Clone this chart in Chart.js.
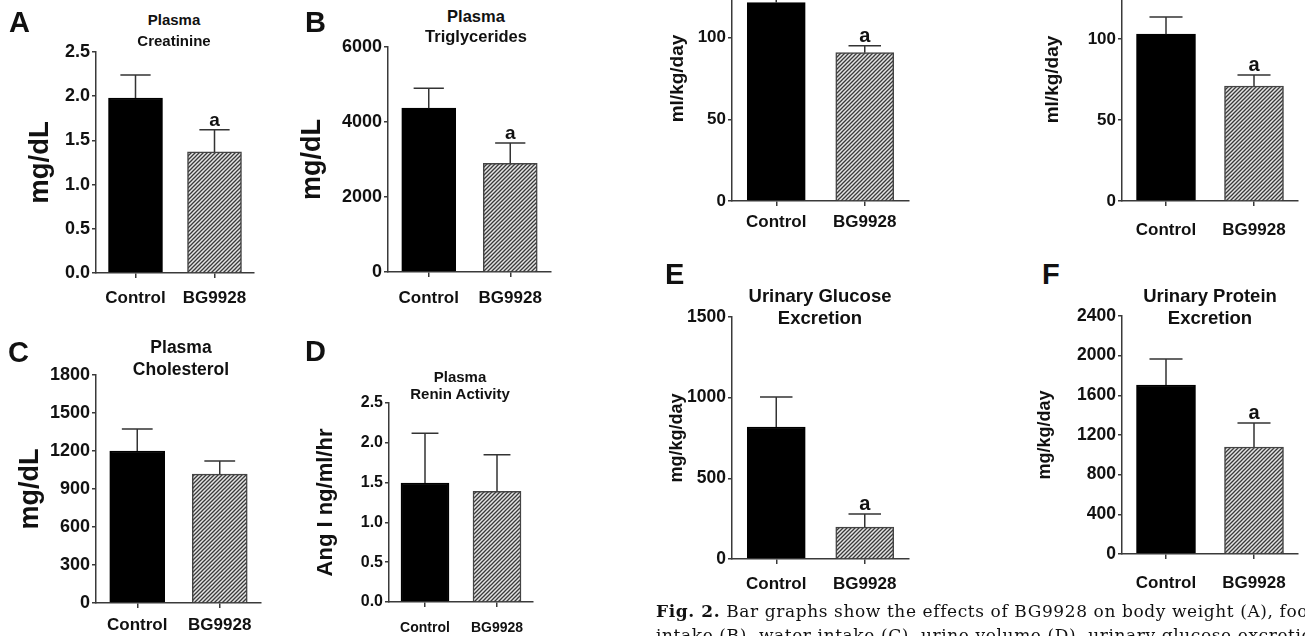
<!DOCTYPE html>
<html>
<head>
<meta charset="utf-8">
<script src="https://cdn.jsdelivr.net/npm/chart.js@4.4.1/dist/chart.umd.min.js"></script>
<style>
  html, body { margin: 0; padding: 0; background: #fff; }
  body { width: 1305px; height: 636px; overflow: hidden; position: relative; }
  canvas { position: absolute; }
  .t { position: absolute; white-space: nowrap; line-height: 1; color: #111;
       font-family: "Liberation Sans", Arial, Helvetica, sans-serif; font-weight: bold; }
  .cap { position: absolute; white-space: nowrap; line-height: 1; color: #111; letter-spacing: 0.6px;
         font-family: "DejaVu Serif", "Liberation Serif", serif; }
</style>
</head>
<body>
<script>
// ---------------- data ----------------
const categories = ['Control', 'BG9928'];

const creatinineMean = [1.98, 1.37];
const creatinineErr  = [0.26, 0.25];
const creatinineSig  = ['', 'a'];
const creatinineTicks = [0, 0.5, 1.0, 1.5, 2.0, 2.5];

const triglycerideMean = [4370, 2900];
const triglycerideErr  = [530, 540];
const triglycerideSig  = ['', 'a'];
const triglycerideTicks = [0, 2000, 4000, 6000];

const cholesterolMean = [1200, 1018];
const cholesterolErr  = [174, 103];
const cholesterolSig  = ['', ''];
const cholesterolTicks = [0, 300, 600, 900, 1200, 1500, 1800];

const reninMean = [1.495, 1.39];
const reninErr  = [0.625, 0.46];
const reninSig  = ['', ''];
const reninTicks = [0, 0.5, 1.0, 1.5, 2.0, 2.5];

const waterIntakeMean = [121.5, 90.8];
const waterIntakeErr  = [8.5, 4.3];
const waterIntakeSig  = ['', 'a'];
const waterIntakeTicks = [0, 50, 100, 150];

const urineVolumeMean = [103, 71];
const urineVolumeErr  = [10.6, 6.8];
const urineVolumeSig  = ['', 'a'];
const urineVolumeTicks = [0, 50, 100, 150];

const glucoseMean = [818, 198];
const glucoseErr  = [186, 81];
const glucoseSig  = ['', 'a'];
const glucoseTicks = [0, 500, 1000, 1500];

const proteinMean = [1704, 1079];
const proteinErr  = [262, 242];
const proteinSig  = ['', 'a'];
const proteinTicks = [0, 400, 800, 1200, 1600, 2000, 2400];

// ---------------- layout ----------------
const dec1 = v => Number(v).toFixed(1);
const int0 = v => String(v);

const panels = [
  { mean: creatinineMean, err: creatinineErr, sig: creatinineSig, ticks: creatinineTicks, fmt: dec1, yTitle: 'mg/dL',
    axisX: 96, right: 254, top: 52, bottom: 273, yTitleCx: 40, yTitleSize: 27.5, tickSize: 18, xSize: 17, xLabelCy: 298, barW: 54, sigSize: 19 },
  { mean: triglycerideMean, err: triglycerideErr, sig: triglycerideSig, ticks: triglycerideTicks, fmt: int0, yTitle: 'mg/dL',
    axisX: 388, right: 551, top: 47, bottom: 272, yTitleCx: 312, yTitleSize: 27, tickSize: 18, xSize: 17, xLabelCy: 298, barW: 54, sigSize: 19 },
  { mean: cholesterolMean, err: cholesterolErr, sig: cholesterolSig, ticks: cholesterolTicks, fmt: int0, yTitle: 'mg/dL',
    axisX: 96, right: 261, top: 375, bottom: 603, yTitleCx: 30, yTitleSize: 27, tickSize: 18, xSize: 17, xLabelCy: 625, barW: 55, sigSize: 19 },
  { mean: reninMean, err: reninErr, sig: reninSig, ticks: reninTicks, fmt: dec1, yTitle: 'Ang I ng/ml/hr',
    axisX: 389, right: 533, top: 403, bottom: 602, yTitleCx: 326, yTitleSize: 22, tickSize: 16, xSize: 14, xLabelCy: 628, barW: 48, sigSize: 17 },
  { mean: waterIntakeMean, err: waterIntakeErr, sig: waterIntakeSig, ticks: waterIntakeTicks, fmt: int0, yTitle: 'ml/kg/day',
    axisX: 732, right: 909, top: -44, bottom: 201, yTitleCx: 677, yTitleSize: 19, tickSize: 17, xSize: 17, xLabelCy: 222, barW: 58, sigSize: 20 },
  { mean: urineVolumeMean, err: urineVolumeErr, sig: urineVolumeSig, ticks: urineVolumeTicks, fmt: int0, yTitle: 'ml/kg/day',
    axisX: 1122, right: 1298, top: -42, bottom: 201, yTitleCx: 1052, yTitleSize: 19, tickSize: 17, xSize: 17, xLabelCy: 230, barW: 59, sigSize: 20 },
  { mean: glucoseMean, err: glucoseErr, sig: glucoseSig, ticks: glucoseTicks, fmt: int0, yTitle: 'mg/kg/day',
    axisX: 732, right: 909, top: 317, bottom: 559, yTitleCx: 677, yTitleSize: 18, tickSize: 17.5, xSize: 17, xLabelCy: 584, barW: 58, sigSize: 20 },
  { mean: proteinMean, err: proteinErr, sig: proteinSig, ticks: proteinTicks, fmt: int0, yTitle: 'mg/kg/day',
    axisX: 1122, right: 1298, top: 316, bottom: 554, yTitleCx: 1045, yTitleSize: 18, tickSize: 17.5, xSize: 17, xLabelCy: 583, barW: 59, sigSize: 20 }
];

const titles = [
  { lines: ['Plasma', 'Creatinine'], cx: 174, base: [25, 46], fs: 15 },
  { lines: ['Plasma', 'Triglycerides'], cx: 476, base: [22, 42], fs: 16.5 },
  { lines: ['Plasma', 'Cholesterol'], cx: 181, base: [354, 376], fs: 17.5 },
  { lines: ['Plasma', 'Renin Activity'], cx: 460, base: [382, 399], fs: 15 },
  { lines: ['Urinary Glucose', 'Excretion'], cx: 820, base: [303, 325], fs: 18.5 },
  { lines: ['Urinary Protein', 'Excretion'], cx: 1210, base: [303, 325], fs: 18.5 }
];

const letters = [
  { t: 'A', x: 9, b: 33 }, { t: 'B', x: 305, b: 33 }, { t: 'C', x: 8, b: 363 },
  { t: 'D', x: 305, b: 362 }, { t: 'E', x: 665, b: 285 }, { t: 'F', x: 1042, b: 285 }
];

const AXIS = '#3a3a3a';
const FONT = '"Liberation Sans", Arial, Helvetica, sans-serif';

function placeText(cls, html, x, baseline, fs, center, weight) {
  const d = document.createElement('div');
  d.className = cls;
  d.innerHTML = html;
  d.style.fontSize = fs + 'px';
  d.style.top = (baseline - 0.8465 * fs) + 'px';
  if (weight) d.style.fontWeight = weight;
  d.style.left = x + 'px';
  if (center) d.style.transform = 'translateX(-50%)';
  document.body.appendChild(d);
  return d;
}

function hatchPattern(ctx) {
  const c = document.createElement('canvas');
  c.width = 4; c.height = 4;
  const g = c.getContext('2d');
  g.fillStyle = '#e4e4e4';
  g.fillRect(0, 0, 4, 4);
  g.strokeStyle = '#3a3a3a';
  g.lineWidth = 1.3;
  g.beginPath();
  g.moveTo(0, 4); g.lineTo(4, 0);
  g.moveTo(-1, 1); g.lineTo(1, -1);
  g.moveTo(3, 5); g.lineTo(5, 3);
  g.stroke();
  return ctx.createPattern(c, 'repeat');
}

const errorBars = {
  id: 'errorBars',
  afterDatasetsDraw(chart) {
    const { ctx, scales: { y } } = chart;
    const ds = chart.data.datasets[0];
    const meta = chart.getDatasetMeta(0);
    meta.data.forEach((bar, i) => {
      const v = ds.data[i], e = ds.errors[i];
      const yv = y.getPixelForValue(v);
      const ye = y.getPixelForValue(v + e);
      const half = bar.width * 0.28;
      ctx.save();
      ctx.strokeStyle = '#333';
      ctx.lineWidth = 1.5;
      ctx.beginPath();
      ctx.moveTo(bar.x, yv);
      ctx.lineTo(bar.x, ye);
      ctx.moveTo(bar.x - half, ye);
      ctx.lineTo(bar.x + half, ye);
      ctx.stroke();
      if (ds.sig[i]) {
        ctx.fillStyle = '#111';
        ctx.font = 'bold ' + ds.sigSize + 'px ' + FONT;
        ctx.textAlign = 'center';
        ctx.textBaseline = 'alphabetic';
        ctx.fillText(ds.sig[i], bar.x, ye - 4);
      }
      ctx.restore();
    });
  }
};

function build(p) {
  const lh = 1.2 * p.yTitleSize;
  const cl = Math.round(p.yTitleCx - lh / 2);
  const padTop = 20, padRight = 24, xH = 44;
  const ct = p.top - padTop;
  const w = Math.round(p.right + padRight - cl);
  const h = Math.round(p.bottom + xH - ct);
  const cv = document.createElement('canvas');
  cv.width = w; cv.height = h;
  cv.style.width = w + 'px'; cv.style.height = h + 'px';
  cv.style.left = cl + 'px'; cv.style.top = ct + 'px';
  document.body.appendChild(cv);
  const ctx = cv.getContext('2d');
  new Chart(ctx, {
    type: 'bar',
    data: {
      labels: categories,
      datasets: [{
        data: p.mean, errors: p.err, sig: p.sig, sigSize: p.sigSize,
        backgroundColor: ['#000', hatchPattern(ctx)],
        borderColor: ['#000', '#444'],
        borderWidth: 1.5,
        barThickness: p.barW
      }]
    },
    options: {
      responsive: false, animation: false, devicePixelRatio: 1,
      layout: { padding: { top: padTop, right: padRight, left: 0, bottom: 0 } },
      plugins: { legend: { display: false }, tooltip: { enabled: false }, title: { display: false } },
      scales: {
        x: {
          type: 'category', offset: true,
          grid: { display: true, drawOnChartArea: false, drawTicks: true, tickLength: 5, offset: false, color: AXIS, lineWidth: 1.5 },
          border: { display: true, color: AXIS, width: 1.5 },
          ticks: { font: { family: FONT, size: p.xSize, weight: 'bold' }, color: '#111',
                   padding: p.xLabelCy - p.bottom - 5 - 0.6 * p.xSize, maxRotation: 0, autoSkip: false },
          afterFit: s => { s.height = xH; }
        },
        y: {
          min: 0, max: p.ticks[p.ticks.length - 1],
          afterBuildTicks: s => { s.ticks = p.ticks.map(v => ({ value: v })); },
          grid: { display: true, drawOnChartArea: false, drawTicks: true, tickLength: 4, color: AXIS, lineWidth: 1.5 },
          border: { display: true, color: AXIS, width: 1.5 },
          ticks: { callback: v => p.fmt(v), font: { family: FONT, size: p.tickSize, weight: 'bold' }, color: '#111', padding: 2 },
          title: { display: true, text: p.yTitle, font: { family: FONT, size: p.yTitleSize, weight: 'bold' }, color: '#111', padding: 0 },
          afterFit: s => { s.width = p.axisX - cl; }
        }
      }
    },
    plugins: [errorBars]
  });
}

panels.forEach(build);

titles.forEach(t => t.lines.forEach((ln, i) => placeText('t', ln, t.cx, t.base[i], t.fs, true)));
letters.forEach(l => placeText('t', l.t, l.x, l.b, 29, false));

placeText('cap', '<b>Fig. 2.</b> Bar graphs show the effects of BG9928 on body weight (A), food', 656, 617.5, 17, false, 'normal');
placeText('cap', 'intake (B), water intake (C), urine volume (D), urinary glucose excretion (E), and urinary protein excretion (F).', 656, 641, 17, false, 'normal');
</script>
</body>
</html>
